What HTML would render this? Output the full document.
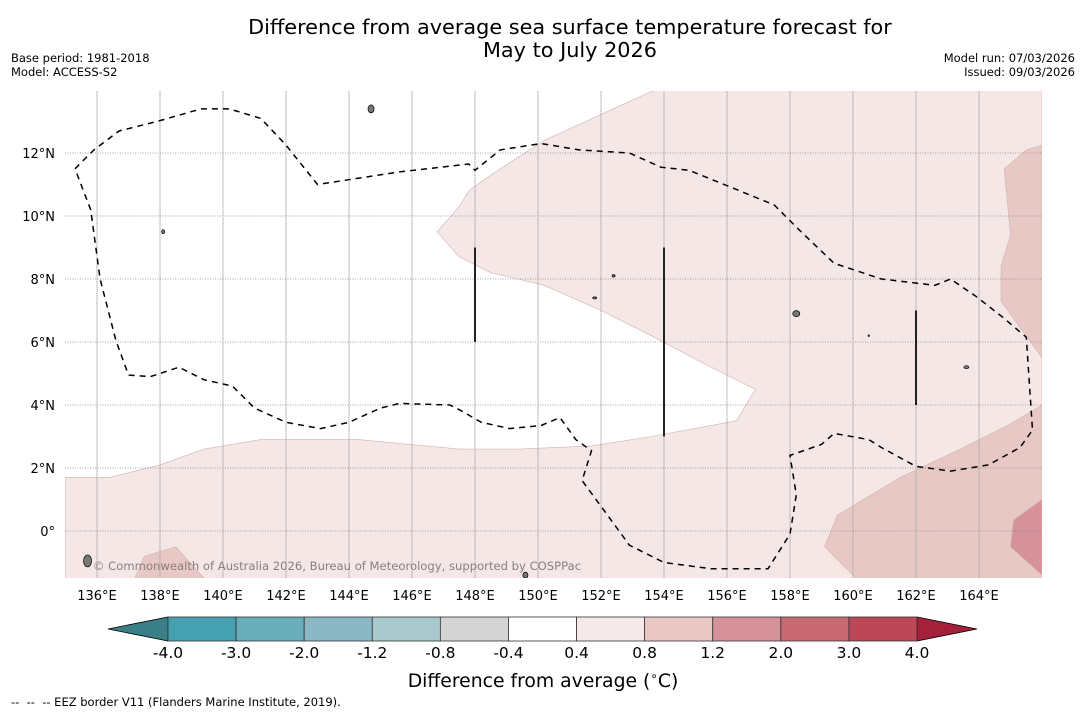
<!DOCTYPE html>
<html><head><meta charset="utf-8"><style>
body{margin:0;background:#fff;font-family:"DejaVu Sans","Liberation Sans",sans-serif;}
svg text{font-family:"DejaVu Sans","Liberation Sans",sans-serif;}
</style></head><body>
<svg id="c" width="1085" height="713" xmlns="http://www.w3.org/2000/svg">
<rect width="1085" height="713" fill="#fff"/>
<text x="570" y="34" font-size="20.8" text-anchor="middle">Difference from average sea surface temperature forecast for</text>
<text x="570" y="57" font-size="20.8" text-anchor="middle">May to July 2026</text>
<text x="11" y="62" font-size="11.5">Base period: 1981-2018</text>
<text x="11" y="76" font-size="11.5">Model: ACCESS-S2</text>
<text x="1075" y="62" font-size="11.5" text-anchor="end">Model run: 07/03/2026</text>
<text x="1075" y="76" font-size="11.5" text-anchor="end">Issued: 09/03/2026</text>
<defs><clipPath id="mc"><rect x="65" y="91" width="977" height="487"/></clipPath></defs>
<g id="map" clip-path="url(#mc)"></g>
<g id="axes"></g>
<g id="cbar"></g>
<text x="543" y="687" font-size="18.8" text-anchor="middle">Difference from average (<tspan baseline-shift="super" font-size="12">∘</tspan>C)</text>
<text x="11" y="706" font-size="11.5" xml:space="preserve">--  --  -- EEZ border V11 (Flanders Marine Institute, 2019).</text>
</svg>
<script>
const lonTicks=[136,138,140,142,144,146,148,150,152,154,156,158,160,162,164];
const latTicks=[0,2,4,6,8,10,12];
const zone04=[[153.7,14],[152.6,13.5],[150.2,12.4],[148.5,11.3],[147.8,10.8],[147.5,10.3],[146.8,9.5],[147.5,8.7],[148.5,8.2],[150.2,7.8],[152,7],[153.6,6.2],[155.1,5.4],[156.9,4.5],[156.3,3.5],[153.6,3],[151.7,2.7],[149.4,2.6],[147.5,2.6],[144.3,2.9],[141.2,2.9],[139.4,2.6],[138,2.1],[136.4,1.7],[135,1.7],[135,-1.5],[166,-1.5],[166,14]];
const zone08a=[[166,12.25],[165.5,12.1],[164.8,11.5],[165,9.4],[164.7,8.4],[164.7,7.3],[166,5.5]];
const zone08b=[[166,4],[165,3.4],[163.4,2.6],[161.5,1.7],[159.5,0.5],[159.1,-0.5],[160.1,-1.5],[166,-1.5]];
const zone08c=[[137.2,-1.5],[137.5,-0.8],[138.5,-0.5],[139.4,-1.5]];
const zone12=[[166,1],[165.1,0.35],[165,-0.5],[166,-1.4]];
const eez=[[135.3,11.5],[135.9,12.1],[136.7,12.7],[137.9,13],[139.3,13.4],[140.2,13.4],[141.2,13.1],[142,12.25],[143,11],[145.6,11.4],[147.8,11.65],[148,11.45],[148.8,12.1],[150.1,12.3],[151.3,12.1],[152.9,12],[153.9,11.55],[154.8,11.45],[156.4,10.8],[157.5,10.35],[158.3,9.55],[159.4,8.5],[160.9,8],[162.6,7.8],[163.1,8],[163.9,7.45],[164.8,6.75],[165.5,6.15],[165.7,3.2],[165.3,2.65],[164.3,2.1],[163.1,1.9],[162,2.05],[160.9,2.65],[160.5,2.9],[159.4,3.1],[159,2.75],[158,2.4],[158.2,1.15],[158,-0.1],[157.3,-1.2],[155.5,-1.2],[154,-1],[152.9,-0.45],[152.1,0.65],[151.4,1.6],[151.7,2.55],[151.2,2.9],[150.7,3.6],[150.1,3.35],[149.1,3.25],[148.2,3.45],[147.5,3.85],[147.2,4],[145.6,4.05],[145,3.9],[144,3.45],[143.1,3.25],[142,3.45],[141,3.9],[140.3,4.6],[139.4,4.8],[138.6,5.2],[137.7,4.9],[137,4.95],[136.6,6.05],[136.1,8],[135.8,10.2],[135.3,11.5]];
const borderLines=[[148,9,6],[154,9,3],[162,7,4]];
const islands=[[144.7,13.4,3,4],[158.2,6.9,3.5,3],[135.7,-0.95,4,6],[149.6,-1.4,2.5,3],[138.1,9.5,1.5,2],[163.6,5.2,2.5,1.5],[160.5,6.2,0.8,0.8],[152.4,8.1,1.5,1.2],[151.8,7.4,2,1]];
const cbLabels=["-4.0","-3.0","-2.0","-1.2","-0.8","-0.4","0.4","0.8","1.2","2.0","3.0","4.0"];
const cbColors=["#45a0b0","#69aebb","#8ab8c4","#a9c9cd","#d4d4d4","#ffffff","#f5e9e9","#e9c7c3","#d6929a","#c86872","#bc4756"];
const NS="http://www.w3.org/2000/svg";
const X=lon=>97+(lon-136)*31.5, Y=lat=>531-lat*31.5;
function mk(tag,attrs,parent){const e=document.createElementNS(NS,tag);for(const k in attrs)e.setAttribute(k,attrs[k]);parent.appendChild(e);return e;}
const map=document.getElementById('map'),axes=document.getElementById('axes'),cb=document.getElementById('cbar');
const pts=a=>a.map(p=>X(p[0]).toFixed(1)+','+Y(p[1]).toFixed(1)).join(' ');
[[zone04,'#f4e7e6','anomaly-zone-0.4'],[zone08a,'#e8c8c4','anomaly-zone-0.8-east'],[zone08b,'#e8c8c4','anomaly-zone-0.8-southeast'],[zone08c,'#e8c8c4','anomaly-zone-0.8-southwest'],[zone12,'#d6929a','anomaly-zone-1.2']].forEach(z=>{
 const p=mk('polygon',{points:pts(z[0]),fill:z[1],stroke:'#cfb3b0','stroke-width':0.6},map);
 
 
});
lonTicks.forEach(l=>{
 const g=mk('line',{x1:X(l),x2:X(l),y1:91,y2:578,stroke:'#aaa','stroke-width':1,'stroke-dasharray':'1.5,0.5'},map);
 
 
 const t=mk('text',{x:X(l),y:600,'font-size':13,'text-anchor':'middle'},axes);t.textContent=l+'°E';
 
 
});
latTicks.forEach(l=>{
 const g=mk('line',{x1:65,x2:1042,y1:Y(l),y2:Y(l),stroke:'#888','stroke-width':0.8,'stroke-dasharray':'1,1.5'},map);
 
 
 const t=mk('text',{x:55,y:Y(l)+5,'font-size':13,'text-anchor':'end'},axes);t.textContent=l===0?'0°':l+'°N';
 
 
});
const e=mk('polyline',{points:pts(eez),fill:'none',stroke:'#000','stroke-width':1.5,'stroke-dasharray':'6,5'},map);


borderLines.forEach(b=>{
 const l=mk('line',{x1:X(b[0]),x2:X(b[0]),y1:Y(b[1]),y2:Y(b[2]),stroke:'#222','stroke-width':2},map);
 
 
});
islands.forEach(i=>{
 const c=mk('ellipse',{cx:X(i[0]),cy:Y(i[1]),rx:i[2],ry:i[3],fill:'#777',stroke:'#000','stroke-width':0.7},map);
 
 
});
const cr=mk('text',{x:337,y:570,'font-size':11.6,'text-anchor':'middle',fill:'#8a7f7f'},map);cr.textContent='© Commonwealth of Australia 2026, Bureau of Meteorology, supported by COSPPac';


const cx0=168,cw=(917-168)/cbColors.length,cy=617,ch=24;
const tl=mk('polygon',{points:`108,${cy+ch/2} ${cx0},${cy} ${cx0},${cy+ch}`,fill:'#3a7f87',stroke:'#000','stroke-width':0.8},cb);


const tr=mk('polygon',{points:`977,${cy+ch/2} 917,${cy} 917,${cy+ch}`,fill:'#a5203a',stroke:'#000','stroke-width':0.8},cb);


cbColors.forEach((c,i)=>{
 const r=mk('rect',{x:cx0+i*cw,y:cy,width:cw,height:ch,fill:c,stroke:'#333','stroke-width':0.8},cb);
 
 
});
cbLabels.forEach((s,i)=>{
 const t=mk('text',{x:cx0+i*cw,y:cy+ch+17,'font-size':15.5,'text-anchor':'middle'},cb);t.textContent=s;
 
 
});
</script>
</body></html>
